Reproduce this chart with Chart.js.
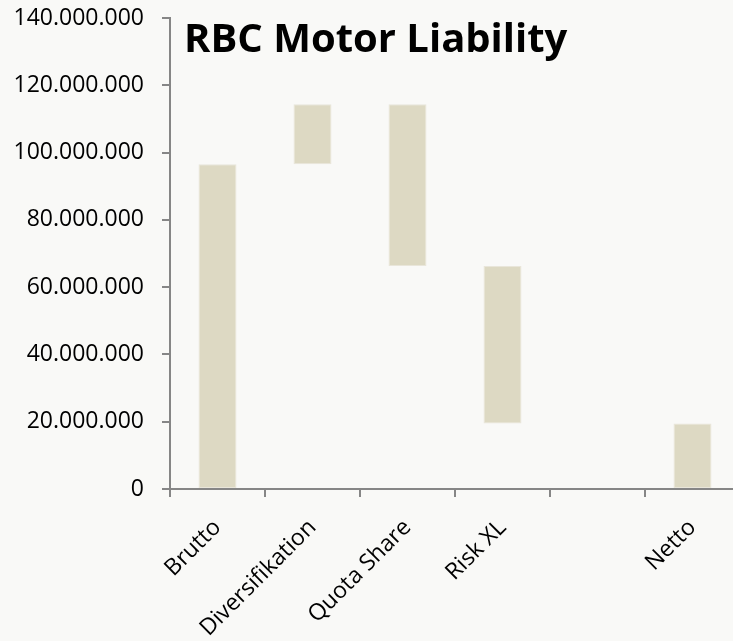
<!DOCTYPE html>
<html lang="de">
<head>
    <meta charset="UTF-8">
    <title>RBC Motor Liability</title>
    <script src="https://cdn.jsdelivr.net/npm/chart.js"></script>
    <style>
        html, body {
            margin: 0;
            padding: 0;
            background-color: #f9f9f7;
            overflow: hidden;
        }
        .wrap {
            position: relative;
            width: 740px;
            height: 641px;
        }
        .title {
            position: absolute;
            left: 184px;
            top: 9px;
            font-family: "Open Sans", sans-serif;
            font-weight: bold;
            font-size: 40px;
            color: #000;
        }
    </style>
</head>
<body>
    <div class="wrap">
        <canvas id="chart" width="740" height="641"></canvas>
        <div class="title">RBC Motor Liability</div>
    </div>

    <script>
        // waterfall steps: [from, to]
        const categories = ["Brutto", "Diversifikation", "Quota Share", "Risk XL", "", "Netto"];
        const barStart = [0, 96500000, 114400000, 66300000, null, 0];
        const barEnd = [96500000, 114400000, 66300000, 19500000, null, 19500000];
        const yTicks = [0, 20000000, 40000000, 60000000, 80000000, 100000000, 120000000, 140000000];

        const floating = barStart.map((s, i) => s === null ? null : [s, barEnd[i]]);

        function formatDots(v) {
            return String(Math.round(v)).replace(/\B(?=(\d{3})+(?!\d))/g, ".");
        }

        const axisGrey = "#868686";

        new Chart(document.getElementById("chart").getContext("2d"), {
            type: "bar",
            data: {
                labels: categories,
                datasets: [{
                    data: floating,
                    backgroundColor: "#ddd9c3",
                    borderColor: "#e9e6da",
                    borderWidth: 1,
                    borderSkipped: false,
                    categoryPercentage: 1,
                    barPercentage: 0.4
                }]
            },
            options: {
                responsive: false,
                animation: false,
                layout: { padding: { top: 18, right: 0 } },
                plugins: {
                    legend: { display: false },
                    tooltip: { enabled: false }
                },
                scales: {
                    x: {
                        grid: {
                            display: true,
                            drawOnChartArea: false,
                            drawTicks: true,
                            tickLength: 8,
                            color: axisGrey,
                            lineWidth: 2,
                            offset: true
                        },
                        border: { color: axisGrey, width: 2 },
                        ticks: {
                            color: "#000",
                            font: { family: "Open Sans", size: 23 },
                            minRotation: 45,
                            maxRotation: 45,
                            padding: 17
                        },
                        afterFit: (axis) => { axis.height = 152; }
                    },
                    y: {
                        min: 0,
                        max: 140000000,
                        afterBuildTicks: (axis) => {
                            axis.ticks = yTicks.map(v => ({ value: v }));
                        },
                        grid: {
                            display: true,
                            drawOnChartArea: false,
                            drawTicks: true,
                            tickLength: 8,
                            color: axisGrey,
                            lineWidth: 2
                        },
                        border: { color: axisGrey, width: 2 },
                        ticks: {
                            color: "#000",
                            font: { family: "Open Sans", size: 23 },
                            padding: 18,
                            callback: (v) => formatDots(v)
                        },
                        afterFit: (axis) => {
                            axis.width = 170;
                            axis.paddingTop = 0;
                            axis.paddingBottom = 0;
                        }
                    }
                }
            }
        });
    </script>
</body>
</html>
